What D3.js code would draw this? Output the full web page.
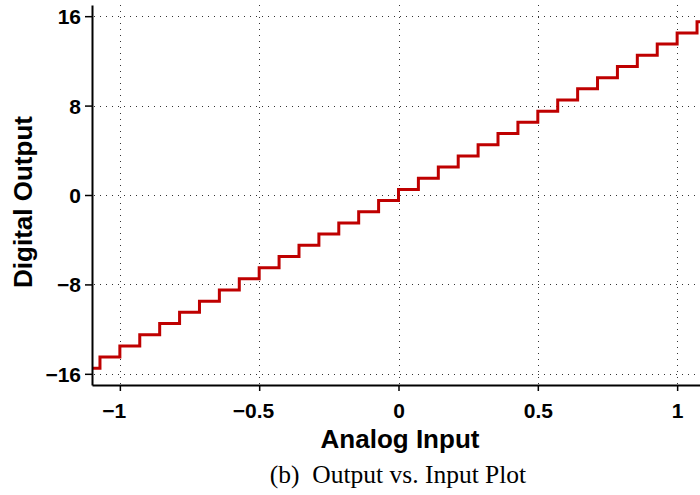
<!DOCTYPE html>
<html>
<head>
<meta charset="utf-8">
<script src="https://cdn.jsdelivr.net/npm/d3@7"></script>
<style>
  html, body { margin: 0; padding: 0; background: #fff; overflow: hidden; }
  svg { display: block; }
</style>
</head>
<body>
<svg id="chart" width="700" height="495"></svg>
<script>
// ---- Data ----
// Start of each quantizer step on the analog input axis (last entry = end of plot)
const stepInput = [-1.1, -1.0714, -1.0, -0.9286, -0.8571, -0.7857, -0.7143, -0.6429,
  -0.5714, -0.5, -0.4286, -0.3571, -0.2857, -0.2143, -0.1429, -0.0714,
  0.0, 0.0714, 0.1429, 0.2143, 0.2857, 0.3571, 0.4286, 0.5,
  0.5714, 0.6429, 0.7143, 0.7857, 0.8571, 0.9286, 1.0, 1.0714, 1.1];
// Digital output level held over each step
const stepOutput = [-15.5, -14.5, -13.5, -12.5, -11.5, -10.5, -9.5, -8.5,
  -7.5, -6.5, -5.5, -4.5, -3.5, -2.5, -1.5, -0.5,
  0.5, 1.5, 2.5, 3.5, 4.5, 5.5, 6.5, 7.5,
  8.5, 9.5, 10.5, 11.5, 12.5, 13.5, 14.5, 15.5, 15.5];
const xTicks = [-1, -0.5, 0, 0.5, 1];
const yTicks = [-16, -8, 0, 8, 16];
const xTickLabels = ["\u22121", "\u22120.5", "0", "0.5", "1"];
const yTickLabels = ["\u221216", "\u22128", "0", "8", "16"];
const xTitle = "Analog Input";
const yTitle = "Digital Output";
const caption = "(b)\u00a0\u00a0Output vs. Input Plot";

// ---- Layout ----
const svg = d3.select("#chart");
const mLeft = 92, mRight = 705, mTop = 5, mBottom = 385;
const x = d3.scaleLinear().domain([-1.1, 1.1]).range([mLeft, mRight]);
const y = d3.scaleLinear().domain([-17, 17]).range([mBottom, mTop]);

const sansBold = "'Liberation Sans', Arial, Helvetica, sans-serif";

// Grid
const grid = svg.append("g").attr("stroke", "#333").attr("stroke-width", 1)
  .attr("stroke-dasharray", "1,5").attr("fill", "none");
grid.selectAll("line.h").data(yTicks).join("line").attr("class", "h")
  .attr("x1", mLeft + 2).attr("x2", mRight)
  .attr("y1", d => Math.round(y(d)) + 0.5).attr("y2", d => Math.round(y(d)) + 0.5);
grid.selectAll("line.v").data(xTicks).join("line").attr("class", "v")
  .attr("y1", mTop).attr("y2", mBottom - 1)
  .attr("x1", d => Math.round(x(d)) + 0.5).attr("x2", d => Math.round(x(d)) + 0.5);

// Staircase
const pts = stepInput.map((v, i) => [v, stepOutput[i]]);
const line = d3.line().x(d => x(d[0])).y(d => y(d[1])).curve(d3.curveStepAfter);
svg.append("path").datum(pts).attr("d", line)
  .attr("fill", "none").attr("stroke", "#bf0000").attr("stroke-width", 3)
  .attr("stroke-linejoin", "miter");

// Axes
const yAxis = svg.append("g").attr("transform", `translate(${mLeft},0)`)
  .call(d3.axisLeft(y).tickValues(yTicks).tickSize(7).tickSizeOuter(0).tickPadding(4)
    .tickFormat((d, i) => yTickLabels[i]));
const xAxis = svg.append("g").attr("transform", `translate(0,${mBottom})`)
  .call(d3.axisBottom(x).tickValues(xTicks).tickSize(6).tickSizeOuter(0).tickPadding(12)
    .tickFormat((d, i) => xTickLabels[i]));

[yAxis, xAxis].forEach(ax => {
  ax.select(".domain").attr("stroke", "#000").attr("stroke-width", 2);
  ax.selectAll(".tick line").attr("stroke", "#000").attr("stroke-width", 1.5);
  ax.selectAll(".tick text").attr("fill", "#000")
    .style("font-family", sansBold).style("font-weight", "bold").style("font-size", "21px");
});
yAxis.selectAll(".tick text").attr("dy", "0.36em");

// Centre the numeric part of negative x labels on the tick (minus hangs left)
xAxis.selectAll(".tick text").each(function (d, i) {
  const t = d3.select(this);
  const s = xTickLabels[i];
  if (s.startsWith("\u2212")) {
    const full = this.getComputedTextLength();
    t.text(s.slice(1));
    const part = this.getComputedTextLength();
    t.text(s);
    t.attr("dx", -(full - part) / 2);
  }
});

// Titles
svg.append("text").attr("x", 400).attr("y", 448).attr("text-anchor", "middle")
  .style("font-family", sansBold).style("font-weight", "bold").style("font-size", "26px")
  .text(xTitle);
svg.append("text").attr("transform", "translate(32,202) rotate(-90)").attr("text-anchor", "middle")
  .style("font-family", sansBold).style("font-weight", "bold").style("font-size", "26px")
  .text(yTitle);

// Caption
svg.append("text").attr("x", 398).attr("y", 483).attr("text-anchor", "middle")
  .style("font-family", "'Liberation Serif', 'Times New Roman', serif").style("font-size", "25.5px")
  .text(caption);
</script>
</body>
</html>
